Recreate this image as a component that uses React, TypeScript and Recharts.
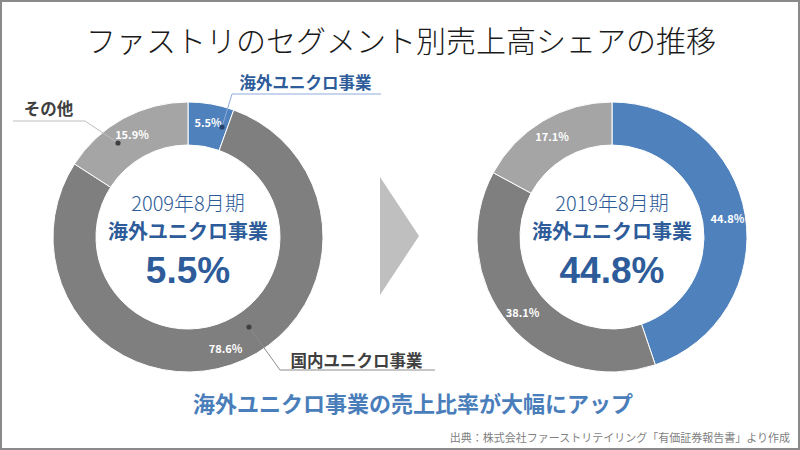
import React from 'react';
import { PieChart, Pie, Cell } from 'recharts';

const segments = ['海外ユニクロ事業', '国内ユニクロ事業', 'その他'];
const share2009 = [5.5, 78.6, 15.9];
const share2019 = [44.8, 38.1, 17.1];
const periods = ['2009年8月期', '2019年8月期'];
const colors = ['#4f81bd', '#7f7f7f', '#a5a5a5'];
const title = 'ファストリのセグメント別売上高シェアの推移';
const highlight = '海外ユニクロ事業';
const conclusion = '海外ユニクロ事業の売上比率が大幅にアップ';
const source = '出典：株式会社ファーストリテイリング「有価証券報告書」より作成';

const data2009 = segments.map((name, i) => ({ name, value: share2009[i] }));
const data2019 = segments.map((name, i) => ({ name, value: share2019[i] }));

const FONT = '"Noto Sans CJK JP", "Noto Sans", sans-serif';
const NUMFONT = '"Liberation Sans", Arial, sans-serif';
const RAD = Math.PI / 180;

// callout geometry relative to the pie centre (left chart only)
const callouts = [
  { dot: [34, -110], elbow: [44, -143], end: 193, text: [117.5, -155], color: '#2e5c9a', line: '#8eaadb', dotColor: '#27436b' },
  { dot: [61, 90], elbow: [92, 133], end: 247, text: [168.5, 123], color: '#404040', line: '#8c8c8c', dotColor: '#404040' },
  { dot: [-70, -94], elbow: [-103, -116], end: -175, text: [-139.5, -129], color: '#404040', line: '#bfbfbf', dotColor: '#404040' },
];

const makeLabel = (withCallouts: boolean) => (props: any) => {
  const { cx, cy, midAngle, value, index } = props;
  const r = 117;
  const x = cx + r * Math.cos(-midAngle * RAD);
  const y = cy + r * Math.sin(-midAngle * RAD);
  const c = callouts[index];
  return (
    <g>
      <text x={x} y={y} fill="#fff" fontSize={11} fontWeight={700} fontFamily={FONT} textAnchor="middle" dominantBaseline="central">
        {`${Number(value).toFixed(1)}%`}
      </text>
      {withCallouts && c ? (
        <g>
          <polyline
            points={`${cx + c.dot[0]},${cy + c.dot[1]} ${cx + c.elbow[0]},${cy + c.elbow[1]} ${cx + c.end},${cy + c.elbow[1]}`}
            fill="none"
            stroke={c.line}
            strokeWidth={1}
          />
          <circle cx={cx + c.dot[0]} cy={cy + c.dot[1]} r={2.6} fill={c.dotColor} />
          <text x={cx + c.text[0]} y={cy + c.text[1]} fill={c.color} fontSize={16.5} fontWeight={700} fontFamily={FONT} textAnchor="middle" dominantBaseline="central">
            {segments[index]}
          </text>
        </g>
      ) : null}
    </g>
  );
};

const centers = [
  { cx: 188, cy: 237, data: data2009, callouts: true },
  { cx: 612, cy: 237, data: data2019, callouts: false },
];

export default function App() {
  return (
    <div style={{ position: 'absolute', left: 0, top: 0, width: 800, height: 450, background: '#fff', boxSizing: 'border-box', border: '2px solid #8a8a8a', overflow: 'hidden' }}>
      <div style={{ position: 'absolute', left: -2, top: -2 }}>
        <PieChart width={800} height={450} margin={{ top: 0, right: 0, bottom: 0, left: 0 }}>
          {centers.map((c, k) => (
            <Pie
              key={k}
              data={c.data}
              dataKey="value"
              nameKey="name"
              cx={c.cx}
              cy={c.cy}
              innerRadius={92}
              outerRadius={135}
              startAngle={90}
              endAngle={-270}
              stroke="#fff"
              strokeWidth={1}
              isAnimationActive={false}
              labelLine={false}
              label={makeLabel(c.callouts)}
            >
              {c.data.map((d, i) => (
                <Cell key={i} fill={colors[i]} />
              ))}
            </Pie>
          ))}
        </PieChart>
        <svg width={800} height={450} style={{ position: 'absolute', left: 0, top: 0, pointerEvents: 'none' }}>
          <text x={401} y={39} fontSize={30} fontWeight={300} fontFamily={FONT} fill="#1a1a1a" textAnchor="middle" dominantBaseline="central">{title}</text>
          <polygon points="380,177 380,295 419,236" fill="#bfbfbf" />
          {centers.map((c, k) => {
            const v = k === 0 ? share2009[0] : share2019[0];
            return (
              <g key={k}>
                <text x={c.cx} y={c.cy - 35} fontSize={20} fontWeight={300} fontFamily={FONT} fill="#2e5c9a" textAnchor="middle" dominantBaseline="central">{periods[k]}</text>
                <text x={c.cx} y={c.cy - 7} fontSize={20} fontWeight={700} fontFamily={FONT} fill="#2e5c9a" textAnchor="middle" dominantBaseline="central">{highlight}</text>
                <text x={c.cx} y={c.cy + 33} fontSize={37} fontWeight={700} fontFamily={NUMFONT} fill="#2e5c9a" textAnchor="middle" dominantBaseline="central">{`${v.toFixed(1)}%`}</text>
              </g>
            );
          })}
          <text x={413} y={402} fontSize={22} fontWeight={700} fontFamily={FONT} fill="#4a7ebb" textAnchor="middle" dominantBaseline="central">{conclusion}</text>
          <text x={790} y={437} fontSize={11} fontFamily={FONT} fill="#7f7f7f" textAnchor="end" dominantBaseline="central">{source}</text>
        </svg>
      </div>
    </div>
  );
}
